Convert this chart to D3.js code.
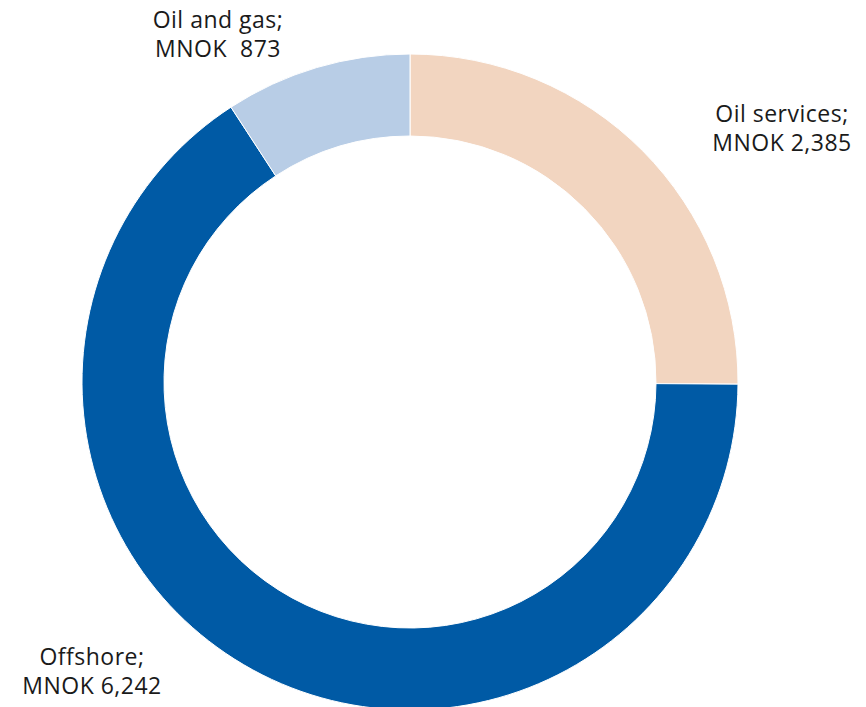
<!DOCTYPE html>
<html>
<head>
<meta charset="utf-8">
<script src="https://cdn.jsdelivr.net/npm/d3@7"></script>
<style>
  body { margin: 0; background: #fff; }
  text { font-family: "Open Sans", sans-serif; fill: #1a1a1a; }
</style>
</head>
<body>
<svg width="866" height="707"></svg>
<script>
// Data
var categories = ["Oil services", "Offshore", "Oil and gas"];
var values = [2385, 6242, 873];
var valueLabels = ["MNOK 2,385", "MNOK 6,242", "MNOK  873"];
var colors = ["#f2d5c0", "#005aa5", "#b8cde6"];

var svg = d3.select("svg");
var cx = 410, cy = 382;
var outerR = 328, innerR = 246;

var pie = d3.pie().sort(null).value(function(d) { return d; });
var arc = d3.arc().innerRadius(innerR).outerRadius(outerR);

var g = svg.append("g").attr("transform", "translate(" + cx + "," + cy + ")");

g.selectAll("path")
  .data(pie(values))
  .enter()
  .append("path")
    .attr("d", arc)
    .attr("fill", function(d, i) { return colors[i]; })
    .attr("stroke", "#fff")
    .attr("stroke-width", 1);

// label positions (relative to chart centre)
var labelPos = [[372, -260], [-318, 283], [-192, -354]];

var lab = g.selectAll("text.lab")
  .data(categories)
  .enter()
  .append("text")
    .attr("class", "lab")
    .attr("text-anchor", "middle")
    .attr("font-size", 23)
    .attr("letter-spacing", 0.5)
    .attr("x", function(d, i) { return labelPos[i][0]; })
    .attr("y", function(d, i) { return labelPos[i][1]; });

lab.append("tspan").text(function(d) { return d + ";"; });
lab.append("tspan")
  .attr("x", function(d, i) { return labelPos[i][0]; })
  .attr("dy", 29)
  .attr("xml:space", "preserve")
  .style("white-space", "pre")
  .text(function(d, i) { return valueLabels[i]; });
</script>
</body>
</html>
